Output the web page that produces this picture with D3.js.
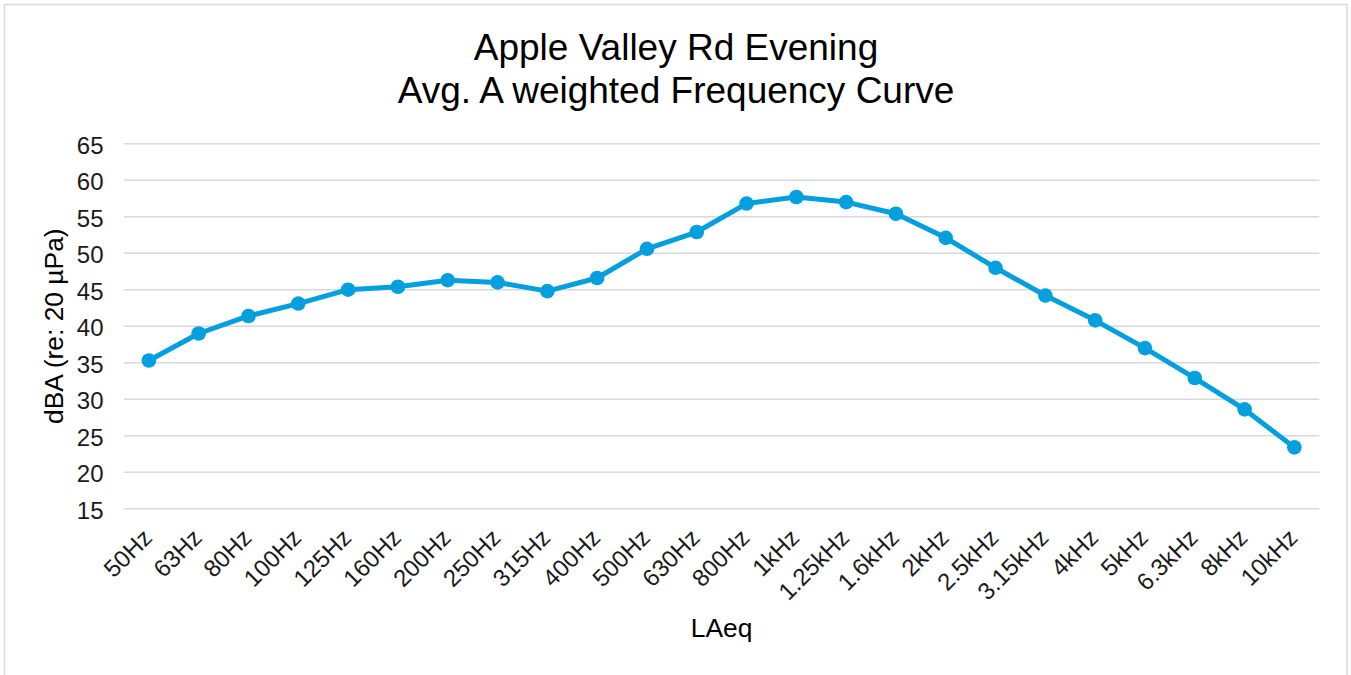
<!DOCTYPE html>
<html>
<head>
<meta charset="utf-8">
<script src="https://cdn.jsdelivr.net/npm/d3@7"></script>
<style>
  html, body { margin: 0; padding: 0; background: #fff; }
  svg { display: block; font-family: "Liberation Sans", Arial, sans-serif; }
</style>
</head>
<body>
<svg id="chart" width="1351" height="675"></svg>
<script>
const categories = ["50Hz","63Hz","80Hz","100Hz","125Hz","160Hz","200Hz","250Hz","315Hz","400Hz","500Hz","630Hz","800Hz","1kHz","1.25kHz","1.6kHz","2kHz","2.5kHz","3.15kHz","4kHz","5kHz","6.3kHz","8kHz","10kHz"];
const values = [35.3, 39.0, 41.4, 43.1, 45.0, 45.4, 46.3, 46.0, 44.8, 46.6, 50.6, 52.9, 56.8, 57.7, 57.0, 55.4, 52.1, 48.0, 44.2, 40.8, 37.0, 32.9, 28.6, 23.4];
const yTicks = [15, 20, 25, 30, 35, 40, 45, 50, 55, 60, 65];
const titleLines = ["Apple Valley Rd Evening", "Avg. A weighted Frequency Curve"];
const xTitle = "LAeq";
const yTitle = "dBA (re: 20 µPa)";

(function () {
const svg = d3.select("#chart");
const color = "#039fdf";

// chart frame
svg.append("rect")
  .attr("x", 4.5).attr("y", 4.5)
  .attr("width", 1342.5).attr("height", 720)
  .attr("fill", "#fff").attr("stroke", "#d9d9d9").attr("stroke-width", 1.5);

const pLeft = 124, pRight = 1319.3, pTop = 143.7, pBottom = 508.7;
const x = d3.scalePoint().domain(categories).range([pLeft, pRight]).padding(0.5);
const y = d3.scaleLinear().domain([15, 65]).range([pBottom, pTop]);

// gridlines
svg.append("g").selectAll("line").data(yTicks).join("line")
  .attr("x1", pLeft).attr("x2", pRight)
  .attr("y1", d => y(d)).attr("y2", d => y(d))
  .attr("stroke", "#d9d9d9").attr("stroke-width", 1.4);

// y axis labels
const yAxis = d3.axisLeft(y).tickValues(yTicks).tickSize(0).tickPadding(0);
const gy = svg.append("g").attr("transform", `translate(${pLeft - 20.5},0)`).call(yAxis);
gy.select(".domain").remove();
gy.selectAll("text")
  .attr("font-size", 24).attr("font-family", "Liberation Sans, Arial, sans-serif")
  .attr("fill", "#1a1a1a").attr("dy", "0.39em");

// x axis labels
const xAxis = d3.axisBottom(x).tickSize(0).tickPadding(0);
const gx = svg.append("g").attr("transform", `translate(0,${pBottom})`).call(xAxis);
gx.select(".domain").remove();
gx.selectAll("text")
  .attr("font-size", 24).attr("font-family", "Liberation Sans, Arial, sans-serif")
  .attr("fill", "#1a1a1a")
  .attr("text-anchor", "end")
  .attr("y", 0).attr("dy", 0)
  .attr("transform", "translate(4,30.5) rotate(-45)");

// line
svg.append("path")
  .datum(values)
  .attr("fill", "none").attr("stroke", color).attr("stroke-width", 5)
  .attr("stroke-linejoin", "round").attr("stroke-linecap", "round")
  .attr("d", d3.line().x((d, i) => x(categories[i])).y(d => y(d)));

// markers
svg.append("g").selectAll("circle").data(values).join("circle")
  .attr("cx", (d, i) => x(categories[i])).attr("cy", d => y(d))
  .attr("r", 7.3).attr("fill", color);

// title
svg.append("g").selectAll("text").data(titleLines).join("text")
  .attr("x", 676).attr("y", (d, i) => 60 + i * 42.7)
  .attr("text-anchor", "middle").attr("font-size", 37).attr("fill", "#000")
  .text(d => d);

// axis titles
svg.append("text")
  .attr("x", (pLeft + pRight) / 2).attr("y", 636.7)
  .attr("text-anchor", "middle").attr("font-size", 26.4).attr("fill", "#000")
  .text(xTitle);

svg.append("text")
  .attr("transform", `translate(62.6,${(pTop + pBottom) / 2}) rotate(-90)`)
  .attr("text-anchor", "middle").attr("font-size", 26.4).attr("fill", "#000")
  .text(yTitle);
})();
</script>
</body>
</html>
